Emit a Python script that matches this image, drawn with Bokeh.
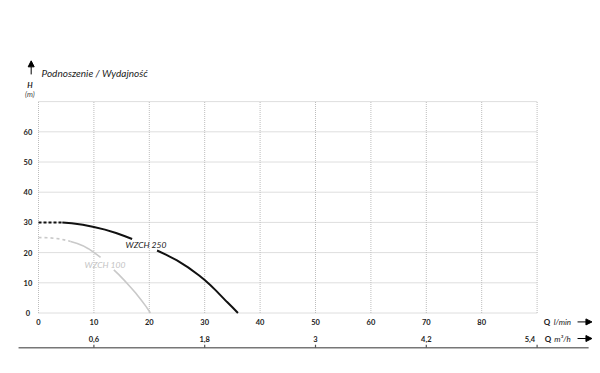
from bokeh.plotting import figure
from bokeh.models import Range1d, Arrow, NormalHead, ColumnDataSource
from bokeh.core.properties import value
from bokeh.embed import file_html
from bokeh.resources import INLINE

# ---- data -----------------------------------------------------------
q_ticks = [0, 10, 20, 30, 40, 50, 60, 70, 80]          # l/min
q_labels = ["0", "10", "20", "30", "40", "50", "60", "70", "80"]
h_ticks = [0, 10, 20, 30, 40, 50, 60]                  # m
h_labels = ["0", "10", "20", "30", "40", "50", "60"]
q_max = 90
h_max = 70
m3h_ticks = [0.6, 1.8, 3.0, 4.2, 5.4]                  # m3/h
m3h_labels = ["0,6", "1,8", "3", "4,2", "5,4"]

# WZCH 250 curve
q_250 = [0, 4.3, 6, 8, 10, 12, 14, 15.5, 16.9,
         21.4, 23, 25, 27, 29, 30, 31, 32, 33, 34, 35, 36]
h_250 = [30, 30, 29.7, 29.2, 28.5, 27.6, 26.5, 25.5, 24.5,
         20.7, 19.3, 17.4, 15.1, 12.4, 10.9, 9.3, 7.5, 5.6, 3.7, 1.9, 0]
# WZCH 100 curve
q_100 = [0, 2, 4, 5.8, 7, 8, 9, 10, 11.2,
         13.6, 14.5, 15.5, 16.5, 17.5, 18.5, 19.4, 20.2]
h_100 = [25, 24.9, 24.5, 23.7, 23.0, 22.3, 21.3, 20.1, 18.4,
         14.3, 12.7, 10.8, 8.8, 6.7, 4.4, 2.2, 0]

series_names = ["WZCH 250", "WZCH 100"]

# ---- figure covering the whole window --------------------------------
W, H = 600, 373
px_per_q = 5.54
px_per_h = 3.02
x0_px, y0_px = 38.0, 312.5
x_start = -x0_px / px_per_q
x_end = (W - x0_px) / px_per_q
y_end = y0_px / px_per_h
y_start = -(H - y0_px) / px_per_h

p = figure(width=W, height=H, output_backend="svg", toolbar_location=None,
           x_range=Range1d(x_start, x_end), y_range=Range1d(y_start, y_end),
           x_axis_location=None, y_axis_location=None, min_border=0,
           outline_line_color=None, background_fill_color="white",
           border_fill_color="white")
p.grid.visible = False
p.extra_x_ranges = {"m3h": Range1d(x_start * 0.06, x_end * 0.06)}

FONT = value("Lato")
grid_color = "#bdbdbd"

# grid (dotted)
gx = q_ticks + [q_max]
gy = h_ticks + [h_max]
p.segment(x0=gx, y0=[0] * len(gx), x1=gx, y1=[h_max] * len(gx),
          line_color=grid_color, line_width=1, line_dash="1 1")
p.segment(x0=[0] * len(gy), y0=gy, x1=[q_max] * len(gy), y1=gy,
          line_color=grid_color, line_width=1, line_dash="1 1")

# tick labels
p.text(x=[-1.9] * len(h_ticks), y=h_ticks, text=h_labels, text_font=FONT,
       text_font_style="bold", text_font_size="7.5px", text_color="#222",
       text_align="center", text_baseline="middle")
p.text(x=q_ticks, y=[-2.85] * len(q_ticks), text=q_labels, text_font=FONT,
       text_font_style="bold", text_font_size="7.5px", text_color="#222",
       text_align="center", text_baseline="middle")

# second (m3/h) axis
axis_y = -11.5
p.segment(x0=[-3.6], y0=[axis_y], x1=[99.3], y1=[axis_y],
          line_color="#777777", line_width=1.6)
p.segment(x0=m3h_ticks, y0=[axis_y] * len(m3h_ticks), x1=m3h_ticks,
          y1=[axis_y + 1.0] * len(m3h_ticks), line_color="#555555",
          line_width=1.2, x_range_name="m3h")
src2 = ColumnDataSource(dict(
    x=m3h_ticks, y=[-8.6] * len(m3h_ticks), text=m3h_labels,
    align=["center"] * (len(m3h_ticks) - 1) + ["right"],
    xo=[0] * (len(m3h_ticks) - 1) + [-2]))
p.text(x="x", y="y", text="text", source=src2, x_range_name="m3h",
       text_font=FONT, text_font_style="bold", text_font_size="7.5px",
       text_color="#222", text_align="align", x_offset="xo",
       text_baseline="middle")

# curves
def split(qs, hs, a, b):
    xs = [q for q in qs if a <= q <= b]
    ys = [h for q, h in zip(qs, hs) if a <= q <= b]
    return xs, ys

# WZCH 100 (light grey)
c100 = "#c9c9c9"
x, y = split(q_100, h_100, 0, 5.8)
p.line(x, y, line_color=c100, line_width=1.6, line_dash="3 3")
x, y = split(q_100, h_100, 5.8, 11.2)
p.line(x, y, line_color=c100, line_width=1.6, line_join="round")
x, y = split(q_100, h_100, 13.6, 99)
p.line(x, y, line_color=c100, line_width=1.6, line_join="round")

# WZCH 250 (black)
c250 = "#111111"
x, y = split(q_250, h_250, 0, 4.3)
p.line(x, y, line_color=c250, line_width=2, line_dash="3 2")
x, y = split(q_250, h_250, 4.3, 16.9)
p.line(x, y, line_color=c250, line_width=2, line_join="round")
x, y = split(q_250, h_250, 21.4, 99)
p.line(x, y, line_color=c250, line_width=2, line_join="round")

# series labels
p.text(x=[19.4], y=[22.5], text=[series_names[0]], text_font=FONT,
       text_font_style="italic", text_font_size="8.5px", text_color="#222",
       text_align="center", text_baseline="middle")
p.text(x=[12.0], y=[15.9], text=[series_names[1]], text_font=FONT,
       text_font_style="italic", text_font_size="8.5px", text_color="#c4c4c4",
       text_align="center", text_baseline="middle")

# title & axis captions
p.text(x=[0.55], y=[79.5], text=["Podnoszenie / Wydajność"], text_font=FONT,
       text_font_style="italic", text_font_size="10px", text_color="#222",
       text_align="left", text_baseline="alphabetic")
p.text(x=[-1.55], y=[75.3], text=["H"], text_font=FONT,
       text_font_style="bold italic", text_font_size="7.5px", text_color="#222",
       text_align="center", text_baseline="middle")
p.text(x=[-1.55], y=[72.5], text=["(m)"], text_font=FONT,
       text_font_style="italic", text_font_size="7.5px", text_color="#444",
       text_align="center", text_baseline="middle")

# Q captions on the right
p.text(x=[91.2, 91.4], y=[-2.95, -8.45], text=["Q", "Q"], text_font=FONT,
       text_font_style="bold", text_font_size="8px", text_color="#222",
       text_align="left", text_baseline="middle")
p.text(x=[93.0, 93.1], y=[-2.95, -8.45], text=["l/min", "m³/h"], text_font=FONT,
       text_font_style="italic", text_font_size="8px", text_color="#222",
       text_align="left", text_baseline="middle")

# arrows
for yy in (-2.95, -8.45):
    p.add_layout(Arrow(end=NormalHead(size=6, fill_color="black", line_color="black"),
                       x_start=97.3, y_start=yy, x_end=99.9, y_end=yy,
                       line_color="black", line_width=1))
p.add_layout(Arrow(end=NormalHead(size=6, fill_color="black", line_color="black"),
                   x_start=-1.32, y_start=79.0, x_end=-1.32, y_end=83.5,
                   line_color="black", line_width=1))

open("out.html", "w").write(file_html(p, INLINE))
